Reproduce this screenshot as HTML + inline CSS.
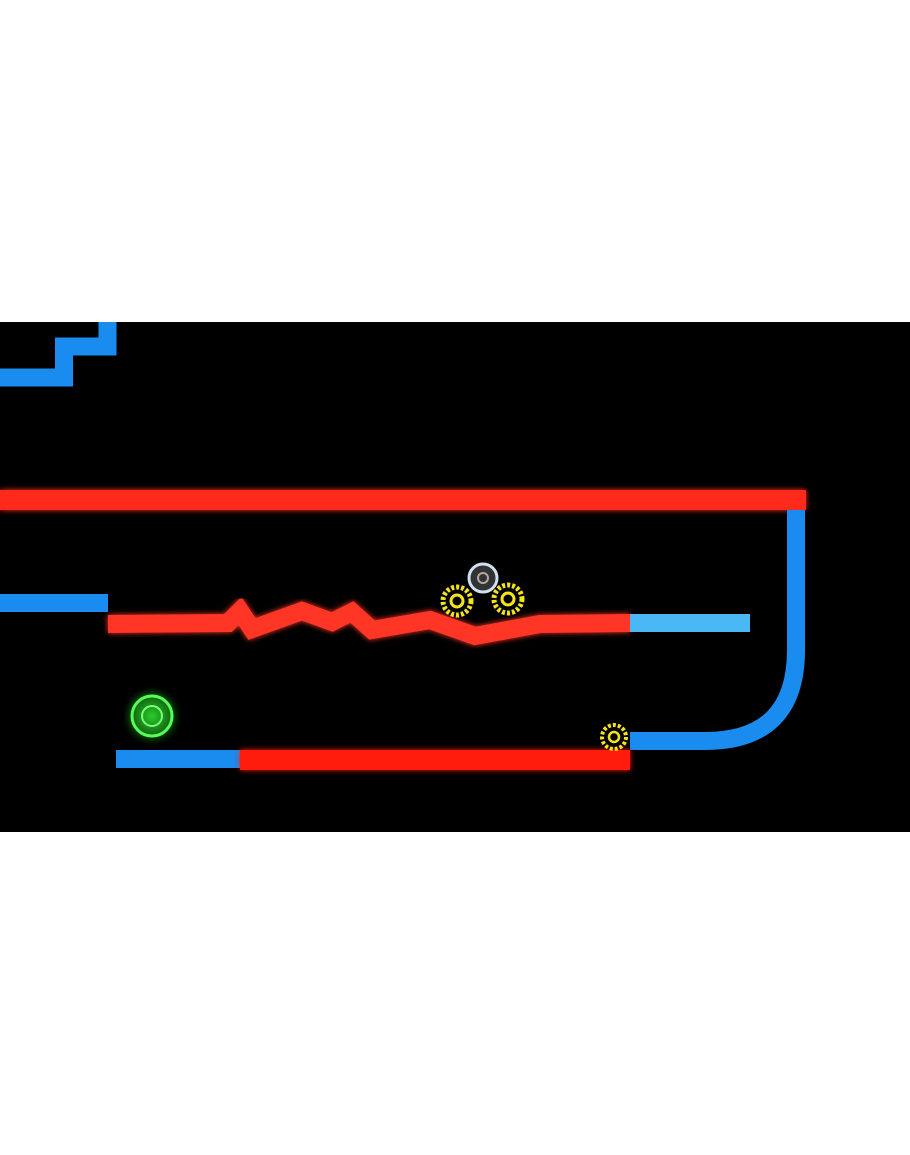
<!DOCTYPE html>
<html><head><style>
html,body{margin:0;padding:0;background:#fff;}
body{width:910px;height:1155px;position:relative;overflow:hidden;}
</style></head><body>
<svg width="910" height="1155" style="position:absolute;left:0;top:0">
<defs>
<filter id="g" x="-20%" y="-50%" width="140%" height="200%"><feGaussianBlur stdDeviation="3" result="b"/><feMerge><feMergeNode in="b"/><feMergeNode in="SourceGraphic"/></feMerge></filter>
<radialGradient id="gr"><stop offset="0" stop-color="#3f3"/><stop offset="0.6" stop-color="#1a8a1a"/><stop offset="1" stop-color="#030" stop-opacity="0"/></radialGradient>
</defs>
<rect x="0" y="322" width="910" height="510" fill="#000"/>
<!-- stairs -->
<path d="M0,377.5 H64 V346.5 H107.5 V322" fill="none" stroke="#1a8cf0" stroke-width="18"/>
<!-- top red -->
<rect x="0" y="490" width="806" height="20" fill="#ff2a1a" filter="url(#g)"/>
<!-- left blue -->
<rect x="0" y="594" width="108" height="18" fill="#1a8cf0"/>
<!-- wavy red -->
<polyline points="108,624 228,623 240,611 252,629 302,611 332,622 352,612 372,630 430,620 475,636 540,624 630,623" fill="none" stroke="#ff3526" stroke-width="18" stroke-linejoin="miter" filter="url(#g)"/>
<rect x="630" y="614" width="120" height="18" fill="#4ab8f5"/>
<!-- right curve -->
<path d="M796,510 V650 Q796,741 705,741 H630" fill="none" stroke="#1a8cf0" stroke-width="18"/>
<!-- bottom -->
<rect x="116" y="750" width="124" height="18" fill="#1a8cf0"/>
<rect x="240" y="750" width="390" height="20" fill="#ff1e10" filter="url(#g)"/>
<!-- gears -->
<g fill="none" stroke="#f5e41a">
<circle cx="457" cy="601" r="14" stroke-width="5" stroke-dasharray="3 2"/>
<circle cx="457" cy="601" r="6" stroke-width="3"/>
<circle cx="508" cy="599" r="14" stroke-width="5" stroke-dasharray="3 2"/>
<circle cx="508" cy="599" r="6" stroke-width="3"/>
<circle cx="614" cy="737" r="12" stroke-width="4" stroke-dasharray="3 2"/>
<circle cx="614" cy="737" r="5" stroke-width="2.5"/>
</g>
<circle cx="483" cy="578" r="14" fill="#333" stroke="#cfe0f0" stroke-width="3"/>
<circle cx="483" cy="578" r="5" fill="none" stroke="#aaa" stroke-width="2"/>
<!-- green -->
<circle cx="152" cy="716" r="30" fill="url(#gr)" opacity="0.8"/>
<circle cx="152" cy="716" r="20" fill="none" stroke="#5f5" stroke-width="3"/>
<circle cx="152" cy="716" r="10" fill="none" stroke="#7f7" stroke-width="2"/>
</svg>
</body></html>
